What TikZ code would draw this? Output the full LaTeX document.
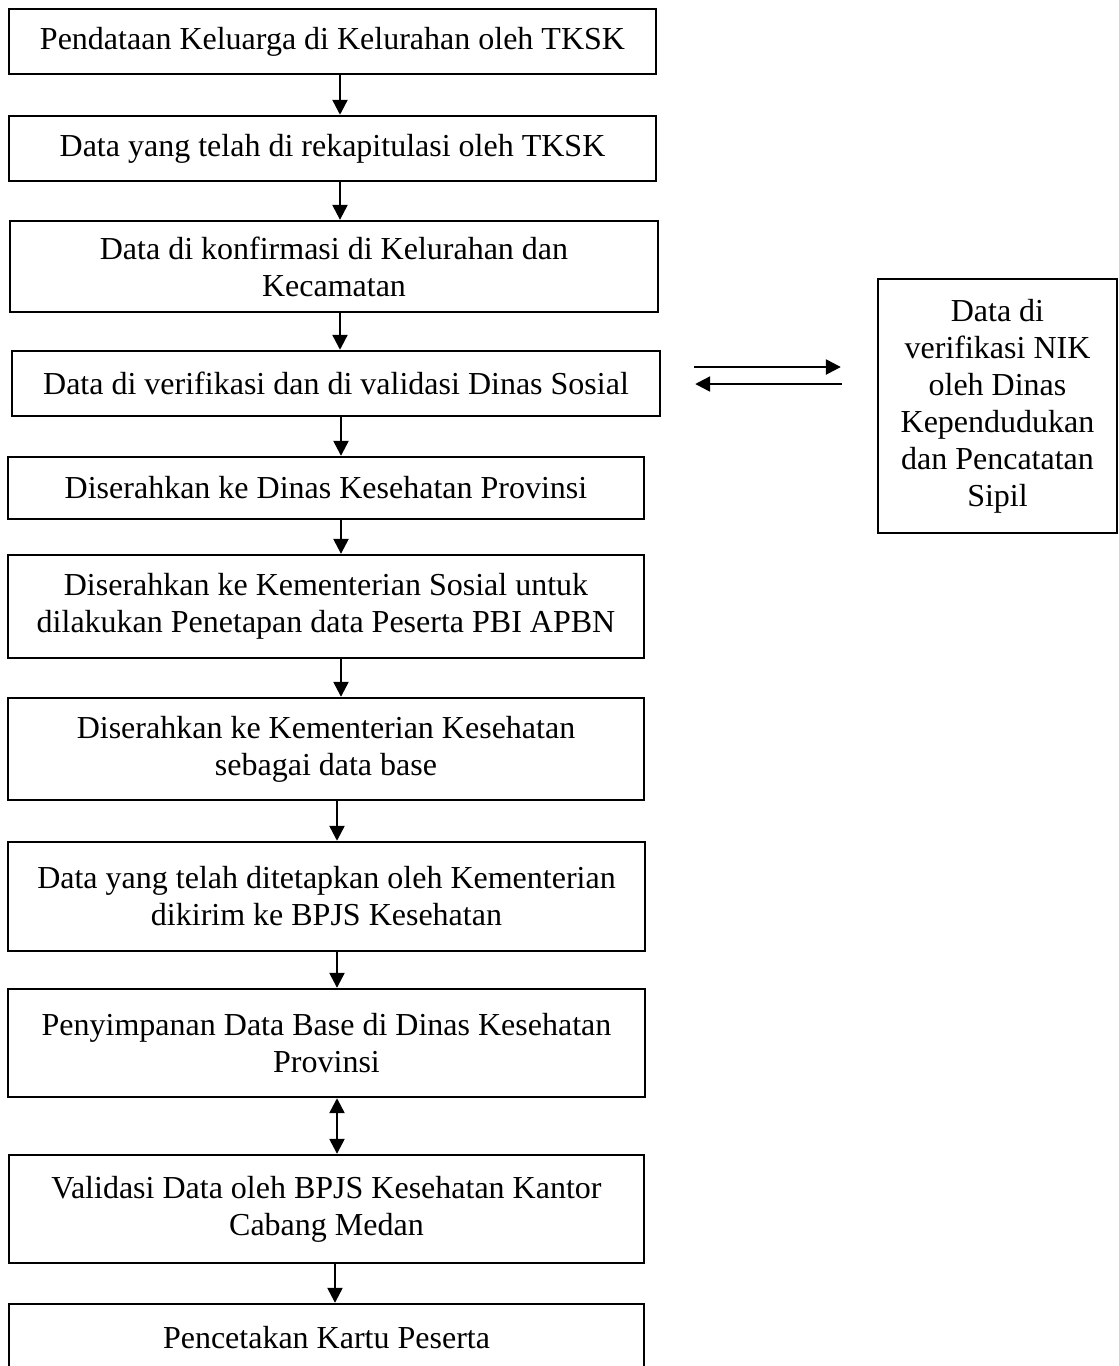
\documentclass[tikz,border=0pt]{standalone}
\usepackage{fontspec}
\setmainfont{Liberation Serif}
\usetikzlibrary{arrows.meta}

\begin{document}
\begin{tikzpicture}[x=0.375pt,y=-0.375pt,line width=0.9pt,
        >={Triangle[length=5.6pt,width=5.6pt]},
        box/.style={draw,align=center,inner sep=0pt,font=\fontsize{12pt}{13.9pt}\selectfont}]
        \clip (0,0) rectangle (1119,1366);
        \node [box,minimum width=242.6pt,minimum height=24.4pt] (b1) at (332.5,41.5) {Pendataan Keluarga di Kelurahan oleh TKSK};
        \node [box,minimum width=242.6pt,minimum height=24.4pt] (b2) at (332.5,148.5) {Data yang telah di rekapitulasi oleh TKSK};
        \node [box,minimum width=243pt,minimum height=34.1pt] (b3) at (334,266.5) {Data di konfirmasi di Kelurahan dan\\Kecamatan};
        \node [box,minimum width=243pt,minimum height=24.4pt] (b4) at (336,383.5) {Data di verifikasi dan di validasi Dinas Sosial};
        \node [box,minimum width=238.5pt,minimum height=23.25pt] (b5) at (326,488) {Diserahkan ke Dinas Kesehatan Provinsi};
        \node [box,minimum width=238.5pt,minimum height=38.6pt] (b6) at (326,606.5) {Diserahkan ke Kementerian Sosial untuk\\dilakukan Penetapan data Peserta PBI APBN};
        \node [box,minimum width=238.5pt,minimum height=38.25pt] (b7) at (326,749) {Diserahkan ke Kementerian Kesehatan\\sebagai data base};
        \node [box,minimum width=238.9pt,minimum height=40.9pt] (b8) at (326.5,896.5) {Data yang telah ditetapkan oleh Kementerian\\dikirim ke BPJS Kesehatan};
        \node [box,minimum width=238.9pt,minimum height=40.5pt] (b9) at (326.5,1043) {Penyimpanan Data Base di Dinas Kesehatan\\Provinsi};
        \node [box,minimum width=238.1pt,minimum height=40.5pt] (b10) at (326.5,1209) {Validasi Data oleh BPJS Kesehatan Kantor\\Cabang Medan};
        \node [box,minimum width=238.1pt,minimum height=25.5pt] (b11) at (326.5,1338) {Pencetakan Kartu Peserta};
        \node [box,minimum width=89.6pt,minimum height=95.25pt] (nik) at (997.5,406) {Data di\\verifikasi NIK\\oleh Dinas\\Kependudukan\\dan Pencatatan\\Sipil};
        \draw [->] (b1.south -| 340,0) -- (b2.north -| 340,0);
        \draw [->] (b2.south -| 340,0) -- (b3.north -| 340,0);
        \draw [->] (b3.south -| 340,0) -- (b4.north -| 340,0);
        \draw [->] (b4.south -| 341,0) -- (b5.north -| 341,0);
        \draw [->] (b5.south -| 341,0) -- (b6.north -| 341,0);
        \draw [->] (b6.south -| 341,0) -- (b7.north -| 341,0);
        \draw [->] (b7.south -| 337,0) -- (b8.north -| 337,0);
        \draw [->] (b8.south -| 337,0) -- (b9.north -| 337,0);
        \draw [<->] (b9.south -| 337,0) -- (b10.north -| 337,0);
        \draw [->] (b10.south -| 335,0) -- (b11.north -| 335,0);
        \draw [->] ([shift={(33,-16.5)}]b4.east) -- ([shift={(-36,-39)}]nik.west);
        \draw [->] ([shift={(-35,-22)}]nik.west) -- ([shift={(34,0.5)}]b4.east);
\end{tikzpicture}
\end{document}
